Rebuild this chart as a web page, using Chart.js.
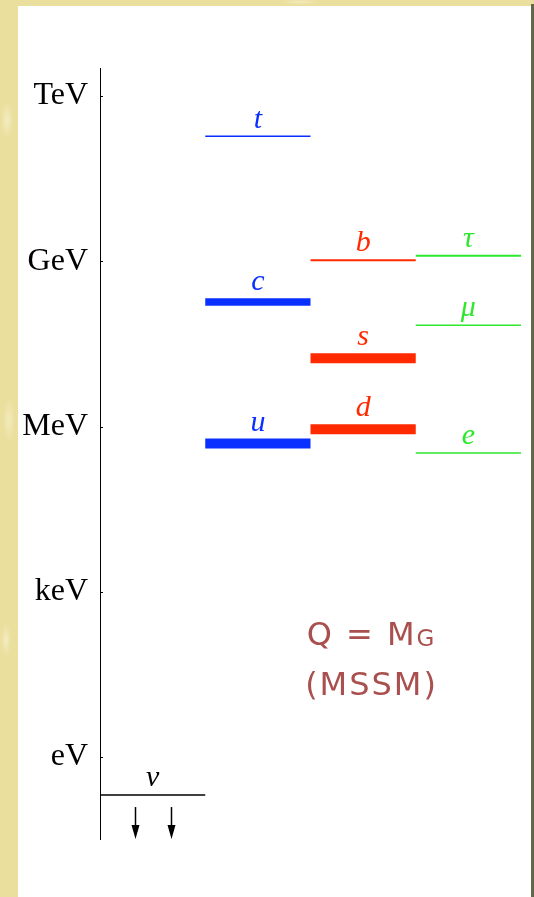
<!DOCTYPE html>
<html>
<head>
<meta charset="utf-8">
<script src="https://cdn.jsdelivr.net/npm/chart.js@4"></script>
<style>
  html, body { margin: 0; padding: 0; }
  body {
    width: 534px; height: 897px; overflow: hidden; position: relative;
    background: #ebdf9e;
    background-image: radial-gradient(ellipse 6px 18px at 7px 120px, #f4ecc2 0, transparent 100%),
                      radial-gradient(ellipse 6px 22px at 9px 420px, #f3eabc 0, transparent 100%),
                      radial-gradient(ellipse 5px 16px at 6px 640px, #f4ecc2 0, transparent 100%),
                      radial-gradient(ellipse 20px 3px at 300px 2px, #f3e9b8 0, transparent 100%);
  }
  #paper { position: absolute; left: 18px; top: 6px; width: 513px; height: 891px; background: #fff; }
  #edge { position: absolute; left: 531px; top: 4px; width: 3px; height: 893px; background: #66664a; }
  #myChart { position: absolute; left: 0; top: 0; }
</style>
</head>
<body>
<div id="paper"></div>
<div id="edge"></div>
<canvas id="myChart" width="534" height="897"></canvas>
<script>
// energy scale: log10(E / eV)
const tickValues = [0, 3, 6, 9, 12];
const tickLabels = ["eV", "keV", "MeV", "GeV", "TeV"];

// fermion levels (Q = M_G, MSSM)
const particles = ["t", "c", "u", "b", "s", "d", "\u03C4", "\u03BC", "e", "\u03BD"];
const columns = [1, 1, 1, 2, 2, 2, 3, 3, 3, 0];
const logMass = [11.27, 8.26, 5.69, 9.02, 7.24, 5.95, 9.10, 7.84, 5.52, -0.69];

// neutrino arrows (upper bounds only)
const arrowX = [0.333, 0.675];
const arrowFrom = -0.91;
const arrowTo = -1.49;

// styles
const familyColors = ["#000000", "#0a30ff", "#ff2a00", "#2ee82e"];
const lineWidths = [1.5, 7.5, 10, 2, 10, 10, 2, 1.5, 1.5, 1.5];

const chart = document.querySelector("#myChart");

const datasets = particles.map((name, i) => ({
  label: name,
  data: [{ x: columns[i], y: logMass[i] }, { x: columns[i] + 1, y: logMass[i] }],
  borderColor: familyColors[columns[i]],
  borderWidth: lineWidths[i],
  borderCapStyle: "butt",
  pointRadius: 0,
  fill: false,
}));

// names above each level, arrows, ticks and the Q = M_G note
const decorations = {
  id: "decorations",
  afterDatasetsDraw(c) {
    const ctx = c.ctx;
    const x = c.scales.x;
    const y = c.scales.y;
    ctx.save();

    // tick marks on the inside of the axis
    ctx.strokeStyle = "#000";
    ctx.lineWidth = 1;
    tickValues.forEach((v) => {
      const py = Math.round(y.getPixelForValue(v)) + 0.5;
      ctx.beginPath();
      ctx.moveTo(x.left, py);
      ctx.lineTo(x.left + 3, py);
      ctx.stroke();
    });

    // particle names
    ctx.font = "italic 30px 'Liberation Serif'";
    ctx.textAlign = "center";
    ctx.textBaseline = "alphabetic";
    particles.forEach((name, i) => {
      const cx = x.getPixelForValue(columns[i] + 0.5);
      const py = y.getPixelForValue(logMass[i]) - lineWidths[i] / 2 - 8;
      ctx.fillStyle = familyColors[columns[i]];
      ctx.fillText(name, cx, py);
    });

    // neutrino arrows
    ctx.fillStyle = "#000";
    arrowX.forEach((v) => {
      const px = Math.round(x.getPixelForValue(v)) + 0.5;
      const top = y.getPixelForValue(arrowFrom);
      const bot = y.getPixelForValue(arrowTo);
      ctx.beginPath();
      ctx.moveTo(px, top);
      ctx.lineTo(px, bot - 12);
      ctx.lineWidth = 1.5;
      ctx.stroke();
      ctx.beginPath();
      ctx.moveTo(px - 4, bot - 14);
      ctx.lineTo(px + 4, bot - 14);
      ctx.lineTo(px, bot);
      ctx.closePath();
      ctx.fill();
    });

    // Q = M_G (MSSM)
    ctx.fillStyle = "#a9504f";
    ctx.textBaseline = "middle";
    ctx.textAlign = "left";
    ctx.letterSpacing = "2px";
    const nx = x.getPixelForValue(2.58);
    const big = "32px 'DejaVu Sans'";
    const small = "23px 'DejaVu Sans'";
    ctx.font = big;
    const main = "Q = M";
    const wMain = ctx.measureText(main).width;
    ctx.font = small;
    const wSub = ctx.measureText("G").width;
    const y1 = y.getPixelForValue(2.18);
    const sx = nx - (wMain + wSub) / 2;
    ctx.font = big;
    ctx.fillText(main, sx, y1);
    ctx.font = small;
    ctx.fillText("G", sx + wMain, y1 + 3);
    ctx.font = big;
    ctx.textAlign = "center";
    ctx.fillText("(MSSM)", nx, y.getPixelForValue(1.27));
    ctx.restore();
  },
};

const config = {
  type: "line",
  data: { datasets },
  options: {
    responsive: false,
    animation: false,
    layout: { padding: { top: 68, bottom: 58, right: 13, left: 0 } },
    plugins: { legend: { display: false }, tooltip: { enabled: false } },
    scales: {
      x: { type: "linear", min: 0, max: 4, display: false },
      y: {
        type: "linear",
        min: -1.49,
        max: 12.51,
        grid: { display: false, drawTicks: false },
        border: { display: true, color: "#000", width: 1 },
        afterBuildTicks: (axis) => {
          axis.ticks = tickValues.map((v) => ({ value: v }));
        },
        afterFit: (scale) => {
          scale.width = 100;
        },
        ticks: {
          padding: 12,
          color: "#000",
          font: { family: "'Liberation Serif'", size: 32 },
          callback: (value) => tickLabels[tickValues.indexOf(value)] || "",
        },
      },
    },
  },
  plugins: [decorations],
};

const myChart = new Chart(chart, config);
</script>
</body>
</html>
